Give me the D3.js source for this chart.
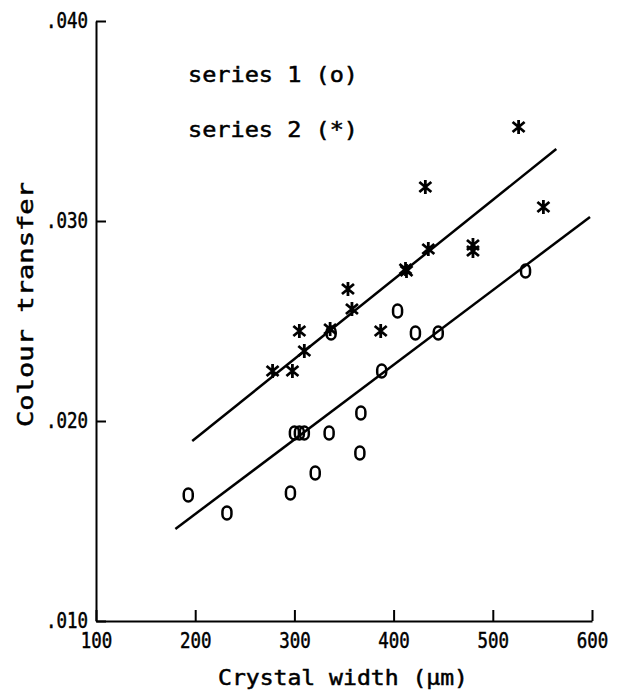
<!DOCTYPE html>
<html><head><meta charset="utf-8">
<script src="https://cdn.jsdelivr.net/npm/d3@7"></script>
<style>body{margin:0;background:#fff}text{font-family:"DejaVu Sans Mono",monospace;fill:#000;stroke:#000;stroke-width:0.5px}</style>
</head><body><svg id="c" width="626" height="693"></svg>
<script>
// Series 1 (o)
const s1x = [193, 232, 296, 321, 366, 367, 335, 300, 305, 310, 388, 337, 404, 422, 445, 533];
const s1y = [0.0163, 0.0154, 0.0164, 0.0174, 0.0184, 0.0204, 0.0194, 0.0194, 0.0194, 0.0194, 0.0225, 0.0244, 0.0255, 0.0244, 0.0244, 0.0275];
// Series 2 (*)
const s2x = [278, 298, 310, 305, 336, 358, 354, 387, 412, 413, 435, 480, 480, 432, 526, 551];
const s2y = [0.0225, 0.0225, 0.0235, 0.0245, 0.0246, 0.0256, 0.0266, 0.0245, 0.0276, 0.0275, 0.0286, 0.0288, 0.0285, 0.0317, 0.0347, 0.0307];
// fitted lines (endpoints)
const line1x = [180, 598];
const line1y = [0.0146, 0.0302];
const line2x = [197, 564];
const line2y = [0.0190, 0.0336];
const xTicks = [100, 200, 300, 400, 500, 600];
const yTicks = [0.010, 0.020, 0.030, 0.040];
const legendLabels = ["series 1 (o)", "series 2 (*)"];

const svg = d3.select("#c");
const x = d3.scaleLinear().domain([100, 600]).range([96, 592]);
const y = d3.scaleLinear().domain([0.010, 0.040]).range([621, 21]);

const fmt = d => d3.format(".3f")(d).replace(/^0/, "");

const gx = svg.append("g").attr("transform", "translate(0,621)")
  .call(d3.axisBottom(x).tickValues(xTicks).tickSizeInner(-11).tickSizeOuter(0).tickPadding(12));
const gy = svg.append("g").attr("transform", "translate(96,0)")
  .call(d3.axisLeft(y).tickValues(yTicks).tickFormat(fmt).tickSizeInner(-10).tickSizeOuter(0).tickPadding(8));
[gx, gy].forEach(g => {
  g.select(".domain").attr("stroke", "#000").attr("stroke-width", 2);
  g.selectAll(".tick line").attr("stroke", "#000").attr("stroke-width", 2);
  g.selectAll(".tick text").style("font-family", "'DejaVu Sans Mono',monospace").style("font-size", "21px")
    .attr("fill", "#000").attr("stroke", "#000").attr("stroke-width", 0.5)
    .attr("textLength", (d, i, n) => n[i].textContent.length * 10.5).attr("lengthAdjust", "spacingAndGlyphs");
});

// regression lines
const ln = d3.line().x(d => x(d[0])).y(d => y(d[1]));
[[line1x, line1y], [line2x, line2y]].forEach(([lx, ly]) => {
  svg.append("path").attr("d", ln(lx.map((v, i) => [v, ly[i]])))
    .attr("fill", "none").attr("stroke", "#000").attr("stroke-width", 2.5);
});

// series 1: "0"-shaped markers
svg.append("g").selectAll("rect").data(s1x.map((v, i) => [v, s1y[i]])).join("rect")
  .attr("x", d => x(d[0]) - 4.5).attr("y", d => y(d[1]) - 6.5)
  .attr("width", 9).attr("height", 13).attr("rx", 4.5).attr("ry", 5)
  .attr("fill", "none").attr("stroke", "#000").attr("stroke-width", 2.5);

// series 2: asterisk markers
const star = "M0,-7L0,7M-6,-5L6,5M-6,5L6,-5";
svg.append("g").selectAll("path").data(s2x.map((v, i) => [v, s2y[i]])).join("path")
  .attr("transform", d => `translate(${x(d[0])},${y(d[1])})`)
  .attr("d", star).attr("fill", "none").attr("stroke", "#000").attr("stroke-width", 2.8);

// legend
svg.selectAll(".leg").data(legendLabels).join("text").attr("class", "leg")
  .attr("x", 188).attr("y", (d, i) => 82 + i * 55)
  .attr("textLength", 170).attr("lengthAdjust", "spacingAndGlyphs")
  .style("font-size", "21px").text(d => d);

// axis titles
svg.append("text").attr("x", 218).attr("y", 685)
  .attr("textLength", 250).attr("lengthAdjust", "spacingAndGlyphs")
  .style("font-size", "21px").text("Crystal width (μm)");
svg.append("text").attr("transform", "translate(33,427) rotate(-90)")
  .attr("textLength", 245).attr("lengthAdjust", "spacingAndGlyphs")
  .style("font-size", "22px").text("Colour transfer");
</script></body></html>
